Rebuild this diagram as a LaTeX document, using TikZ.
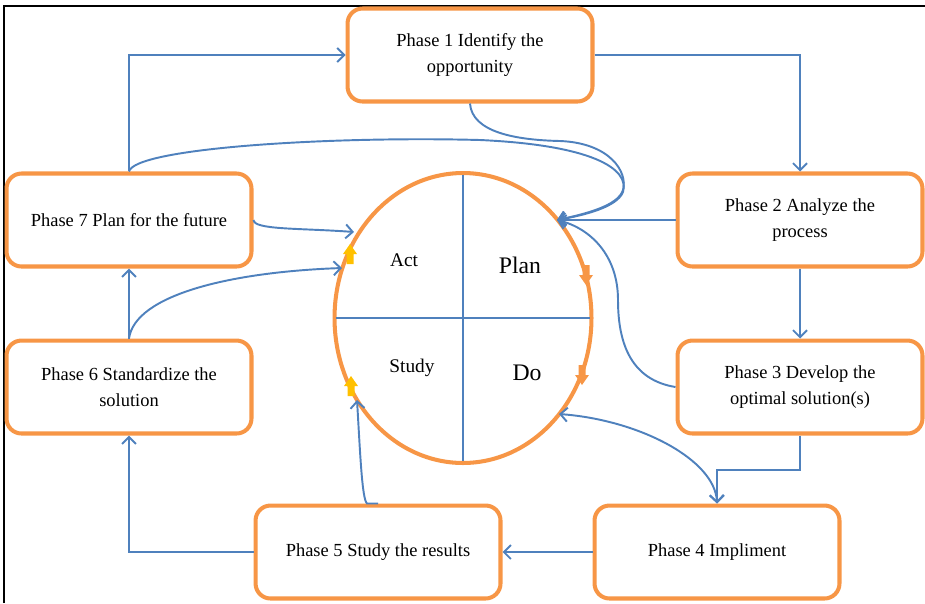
\documentclass[tikz,border=0pt]{standalone}
\usepackage{fontspec}
\setmainfont{Liberation Serif}
\usepackage{tikz}
\usetikzlibrary{arrows.meta, positioning, shapes.geometric}

\definecolor{phaseorange}{HTML}{F79646}
\definecolor{flowblue}{HTML}{4F81BD}
\definecolor{cueyellow}{HTML}{FFC000}

\begin{document}
\begin{tikzpicture}[x=0.02cm, y=-0.02cm,
		flow/.style={draw=flowblue, line width=1.1pt, -{Straight Barb[length=0.14cm, width=0.28cm]}},
		link/.style={draw=flowblue, line width=1.1pt}
	]

	\tikzset{
		phase/.style={
				rectangle, rounded corners=0.3cm, draw=phaseorange, line width=2.3pt, fill=white,
				minimum width=4.9cm, minimum height=1.86cm, align=center,
				font=\fontsize{10.5}{15}\selectfont
			},
		cycle/.style={
				ellipse, draw=phaseorange, line width=2.3pt, inner sep=0pt,
				minimum width=5.14cm, minimum height=5.8cm
			},
		quarter/.style={font=\fontsize{11}{13}\selectfont},
		bigquarter/.style={font=\fontsize{13.5}{15}\selectfont},
		cue/.pic={
				\fill (0,10) -- (-7,0) -- (-3.5,0) -- (-3.5,-10) -- (3.5,-10) -- (3.5,0) -- (7,0) -- cycle;
			},
	}

	\useasboundingbox (0,0) rectangle (925,603);
	\draw[line width=1.5pt] (4,603) -- (4,6) -- (925,6);

	% the seven phases
	\node[phase] (p1) at (470,55) {Phase 1 Identify the\\opportunity};
	\node[phase] (p2) at (800,220) {Phase 2 Analyze the\\process};
	\node[phase, below=1.4cm of p2] (p3) {Phase 3 Develop the\\optimal solution(s)};
	\node[phase] (p4) at (717,552) {Phase 4 Impliment};
	\node[phase, left=1.8cm of p4] (p5) {Phase 5 Study the results};
	\node[phase] (p7) at (129,220) {Phase 7 Plan for the future};
	\node[phase, below=1.4cm of p7] (p6) {Phase 6 Standardize the\\solution};

	% PDSA cycle
	\node[cycle] (pdsa) at (463,318) {};
	\draw[link, shorten <=2pt, shorten >=2pt] (pdsa.north) -- (pdsa.south);
	\draw[link, shorten <=2pt, shorten >=2pt] (pdsa.west) -- (pdsa.east);
	\node[quarter] (act) at (404,260) {Act};
	\node[bigquarter] (plan) at (520,265) {Plan};
	\node[quarter] (study) at (412,368) {Study};
	\node[bigquarter] (do) at (527,373) {Do};

	\pic[phaseorange] at (586,275) {cue};
	\pic[phaseorange] at (582,375) {cue};
	\pic[cueyellow, rotate=180] at (350,254) {cue};
	\pic[cueyellow, rotate=180] at (351,386) {cue};

	\coordinate (toplan) at (557,220);
	\coordinate (todo) at (559,414);
	\coordinate (toact1) at (354,232);
	\coordinate (toact2) at (342,268);
	\coordinate (tostudy) at (357,400);

	% outer loop
	\draw[flow] (p7.north) |- (p1.west);
	\draw[flow] (p1.east) -| (p2.north);
	\draw[flow] (p2.south) -- (p3.north);
	\draw[flow] (p3.south) -- ++(0,34) -| (p4.north);
	\draw[flow] (p4.west) -- (p5.east);
	\draw[flow] (p5.west) -| (p6.south);
	\draw[flow] (p6.north) -- (p7.south);

	% links into the cycle
	\draw[flow] (p2.west) -- (toplan);
	\draw[flow] (p1.south) .. controls (472,132) and (515,140) .. (560,141)
		.. controls (610,143) and (628,172) .. (623,190)
		.. controls (618,206) and (585,214) .. (toplan);
	\draw[flow] (p7.north) .. controls (135,148) and (330,136) .. (480,140)
		.. controls (590,145) and (630,168) .. (623,192)
		.. controls (617,207) and (585,215) .. (toplan);
	\draw[flow] (p3.west) .. controls (632,380) and (618,345) .. (618,300)
		.. controls (618,255) and (590,228) .. (toplan);
	\draw[flow, {Straight Barb[length=0.14cm, width=0.28cm]}-{Straight Barb[length=0.14cm, width=0.28cm]}] (todo) .. controls (640,420) and (715,460) .. (p4.north);
	\draw[flow] (p7.east) .. controls (254,230) and (300,228) .. (toact1);
	\draw[flow] (p6.north) .. controls (135,295) and (230,272) .. (toact2);
	\draw[flow] (p5.north) -- ++(-11,0) .. controls (362,500) and (360,450) .. (tostudy);
\end{tikzpicture}
\end{document}
